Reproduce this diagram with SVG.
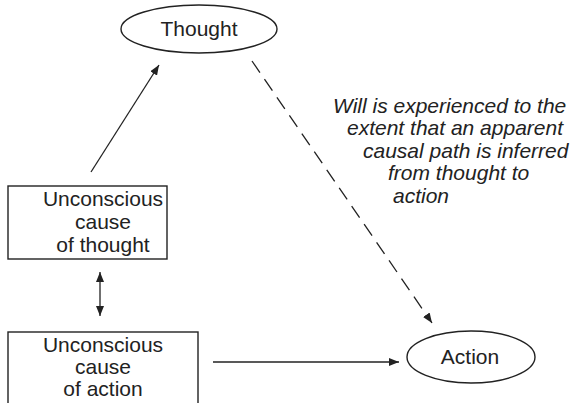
<svg xmlns="http://www.w3.org/2000/svg" width="574" height="403" viewBox="0 0 574 403">
<style>
.shape{fill:#fff;stroke:#222;stroke-width:1.4}
.t{font-family:"Liberation Sans",Arial,sans-serif;font-size:21px;fill:#222;text-anchor:middle}
.it{font-family:"Liberation Sans",Arial,sans-serif;font-size:21px;font-style:italic;fill:#222}
.c{fill:none;stroke:#222;stroke-width:1.3}
</style>
<defs>
<marker id="ah" viewBox="0 0 10 8" refX="10" refY="4" markerWidth="10" markerHeight="8" markerUnits="userSpaceOnUse" orient="auto-start-reverse">
<path d="M0,0 L10,4 L0,8 Z" fill="#222"/>
</marker>
</defs>
<rect width="574" height="403" fill="#fff"/>
<g id="connectors">
<line class="c" x1="91" y1="172" x2="159" y2="65" marker-end="url(#ah)"/>
<line class="c" x1="100" y1="272" x2="100" y2="316" marker-start="url(#ah)" marker-end="url(#ah)"/>
<line class="c" x1="213" y1="362" x2="399" y2="362" marker-end="url(#ah)"/>
<line class="c" x1="252" y1="61" x2="432" y2="323" stroke-dasharray="14 8" marker-end="url(#ah)"/>
</g>
<g id="thought">
<ellipse class="shape" cx="199" cy="29" rx="78" ry="24"/>
<text class="t" x="199" y="36">Thought</text>
</g>
<g id="unconscious-thought">
<rect class="shape" x="8" y="186" width="159" height="73"/>
<text class="t" x="103" y="206">Unconscious</text>
<text class="t" x="103" y="229">cause</text>
<text class="t" x="103" y="252">of thought</text>
</g>
<g id="unconscious-action">
<rect class="shape" x="8" y="332" width="190" height="80"/>
<text class="t" x="103" y="352">Unconscious</text>
<text class="t" x="103" y="374">cause</text>
<text class="t" x="103" y="396">of action</text>
</g>
<g id="action">
<ellipse class="shape" cx="471" cy="357" rx="64" ry="26"/>
<text class="t" x="470" y="364">Action</text>
</g>
<g id="annotation">
<text class="it" x="333" y="113">Will is experienced to the</text>
<text class="it" x="347" y="135">extent that an apparent</text>
<text class="it" x="363" y="158">causal path is inferred</text>
<text class="it" x="388" y="180">from thought to</text>
<text class="it" x="393" y="203">action</text>
</g>
</svg>
